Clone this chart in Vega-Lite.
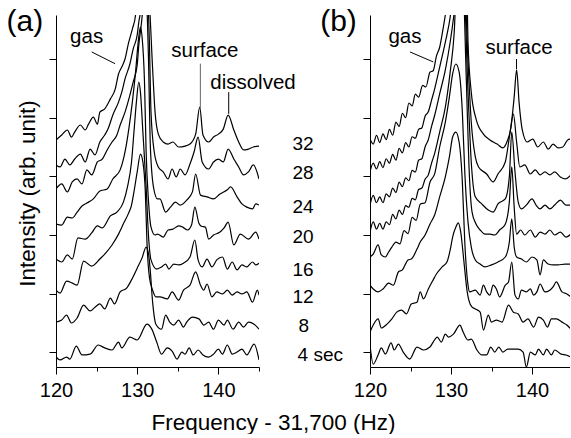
{
"$schema": "https://vega.github.io/schema/vega-lite/v6.json",
"padding": {"left": 6, "top": 7, "right": 0, "bottom": 0},
"spacing": 111,
"bounds": "flush",
"config": {
  "view": {"stroke": null},
  "font": "Liberation Sans",
  "axis": {"domainColor": "black", "tickColor": "black", "labelColor": "black", "titleColor": "black", "domainWidth": 1, "tickWidth": 1, "labelFont": "Liberation Sans", "titleFont": "Liberation Sans", "titleFontWeight": "normal", "grid": false, "labelFlush": false, "labelOverlap": false},
  "text": {"font": "Liberation Sans", "color": "black"}
},
"datasets": {
"specA": [
{"t":4,"f":120.0,"v":-0.16},{"t":4,"f":120.5,"v":-0.26},{"t":4,"f":121.3,"v":-0.16},{"t":4,"f":121.7,"v":-0.23},{"t":4,"f":122.5,"v":0.21},{"t":4,"f":123.2,"v":-0.09},{"t":4,"f":124.2,"v":-0.06},{"t":4,"f":125.2,"v":0.25},{"t":4,"f":126.0,"v":0.15},{"t":4,"f":126.9,"v":0.08},{"t":4,"f":127.7,"v":0.35},{"t":4,"f":128.1,"v":0.15},{"t":4,"f":129.1,"v":0.52},{"t":4,"f":130.0,"v":0.42},{"t":4,"f":131.2,"v":0.96},{"t":4,"f":131.8,"v":0.79},{"t":4,"f":132.4,"v":0.35},{"t":4,"f":133.0,"v":-0.06},{"t":4,"f":133.7,"v":0.15},{"t":4,"f":134.3,"v":0.04},{"t":4,"f":134.9,"v":-0.23},{"t":4,"f":135.5,"v":0.01},{"t":4,"f":135.9,"v":-0.06},{"t":4,"f":136.4,"v":0.15},{"t":4,"f":136.9,"v":-0.09},{"t":4,"f":137.5,"v":0.08},{"t":4,"f":138.1,"v":-0.09},{"t":4,"f":138.8,"v":-0.16},{"t":4,"f":139.4,"v":-0.06},{"t":4,"f":140.0,"v":0.11},{"t":4,"f":140.5,"v":-0.06},{"t":4,"f":141.1,"v":0.25},{"t":4,"f":141.7,"v":-0.06},{"t":4,"f":142.3,"v":0.01},{"t":4,"f":142.9,"v":0.11},{"t":4,"f":143.5,"v":-0.09},{"t":4,"f":144.4,"v":0.28},{"t":4,"f":145.0,"v":-0.26},
{"t":8,"f":120.0,"v":1.03},{"t":8,"f":120.7,"v":1.10},{"t":8,"f":121.3,"v":1.27},{"t":8,"f":121.9,"v":1.00},{"t":8,"f":122.6,"v":1.17},{"t":8,"f":123.4,"v":1.61},{"t":8,"f":124.2,"v":1.41},{"t":8,"f":124.8,"v":1.54},{"t":8,"f":125.4,"v":1.65},{"t":8,"f":126.0,"v":1.48},{"t":8,"f":126.7,"v":1.85},{"t":8,"f":127.2,"v":1.65},{"t":8,"f":127.9,"v":2.06},{"t":8,"f":128.7,"v":2.19},{"t":8,"f":129.3,"v":2.47},{"t":8,"f":130.0,"v":2.87},{"t":8,"f":130.6,"v":3.22},{"t":8,"f":131.1,"v":3.59},{"t":8,"f":131.4,"v":3.35},{"t":8,"f":131.6,"v":2.81},{"t":8,"f":131.9,"v":1.71},{"t":8,"f":132.3,"v":0.96},{"t":8,"f":133.0,"v":0.79},{"t":8,"f":133.5,"v":1.27},{"t":8,"f":134.0,"v":1.03},{"t":8,"f":134.5,"v":0.93},{"t":8,"f":135.1,"v":1.10},{"t":8,"f":135.7,"v":0.86},{"t":8,"f":136.1,"v":1.03},{"t":8,"f":136.8,"v":1.20},{"t":8,"f":137.6,"v":1.14},{"t":8,"f":138.2,"v":0.93},{"t":8,"f":138.8,"v":1.03},{"t":8,"f":139.4,"v":0.79},{"t":8,"f":140.0,"v":1.10},{"t":8,"f":140.7,"v":0.93},{"t":8,"f":141.1,"v":1.10},{"t":8,"f":141.8,"v":0.79},{"t":8,"f":142.5,"v":1.03},{"t":8,"f":143.1,"v":0.86},{"t":8,"f":143.7,"v":1.03},{"t":8,"f":144.4,"v":0.96},{"t":8,"f":145.0,"v":0.79},
{"t":12,"f":120.0,"v":2.12},{"t":12,"f":120.5,"v":2.02},{"t":12,"f":121.3,"v":2.43},{"t":12,"f":122.0,"v":2.36},{"t":12,"f":122.6,"v":2.29},{"t":12,"f":123.4,"v":3.11},{"t":12,"f":124.4,"v":2.94},{"t":12,"f":125.4,"v":3.18},{"t":12,"f":126.0,"v":3.35},{"t":12,"f":126.9,"v":3.66},{"t":12,"f":127.7,"v":4.03},{"t":12,"f":128.4,"v":4.44},{"t":12,"f":128.9,"v":4.72},{"t":12,"f":129.3,"v":5.02},{"t":12,"f":129.6,"v":5.47},{"t":12,"f":130.0,"v":6.15},{"t":12,"f":130.4,"v":6.76},{"t":12,"f":130.7,"v":6.49},{"t":12,"f":131.0,"v":5.47},{"t":12,"f":131.2,"v":3.76},{"t":12,"f":131.5,"v":2.57},{"t":12,"f":131.9,"v":2.12},{"t":12,"f":132.3,"v":1.89},{"t":12,"f":132.8,"v":1.89},{"t":12,"f":133.7,"v":1.82},{"t":12,"f":134.3,"v":2.06},{"t":12,"f":135.1,"v":1.78},{"t":12,"f":135.7,"v":2.12},{"t":12,"f":136.5,"v":2.29},{"t":12,"f":137.2,"v":2.74},{"t":12,"f":137.8,"v":2.29},{"t":12,"f":138.2,"v":2.12},{"t":12,"f":138.6,"v":2.33},{"t":12,"f":139.2,"v":1.89},{"t":12,"f":139.8,"v":2.06},{"t":12,"f":140.5,"v":1.99},{"t":12,"f":141.1,"v":2.12},{"t":12,"f":141.7,"v":1.95},{"t":12,"f":142.3,"v":2.06},{"t":12,"f":142.9,"v":1.99},{"t":12,"f":143.5,"v":2.06},{"t":12,"f":144.2,"v":1.71},{"t":12,"f":144.8,"v":2.12},{"t":12,"f":145.0,"v":1.95},
{"t":16,"f":120.0,"v":3.18},{"t":16,"f":120.7,"v":3.08},{"t":16,"f":121.4,"v":3.32},{"t":16,"f":122.0,"v":3.18},{"t":16,"f":122.7,"v":3.90},{"t":16,"f":123.6,"v":3.86},{"t":16,"f":124.4,"v":4.07},{"t":16,"f":125.1,"v":4.31},{"t":16,"f":125.7,"v":4.24},{"t":16,"f":126.7,"v":4.65},{"t":16,"f":127.5,"v":4.78},{"t":16,"f":128.3,"v":5.12},{"t":16,"f":128.8,"v":5.64},{"t":16,"f":129.3,"v":6.49},{"t":16,"f":129.6,"v":7.51},{"t":16,"f":129.9,"v":8.53},{"t":16,"f":130.2,"v":9.21},{"t":16,"f":130.4,"v":8.87},{"t":16,"f":130.7,"v":7.51},{"t":16,"f":131.1,"v":5.64},{"t":16,"f":131.4,"v":3.93},{"t":16,"f":131.7,"v":3.15},{"t":16,"f":132.4,"v":2.84},{"t":16,"f":133.0,"v":2.91},{"t":16,"f":133.5,"v":3.01},{"t":16,"f":133.9,"v":2.84},{"t":16,"f":134.5,"v":3.01},{"t":16,"f":135.1,"v":2.98},{"t":16,"f":135.7,"v":3.04},{"t":16,"f":136.5,"v":3.25},{"t":16,"f":137.1,"v":3.83},{"t":16,"f":137.5,"v":3.15},{"t":16,"f":138.0,"v":2.91},{"t":16,"f":138.6,"v":3.18},{"t":16,"f":139.2,"v":2.91},{"t":16,"f":139.8,"v":3.15},{"t":16,"f":140.5,"v":3.25},{"t":16,"f":141.1,"v":2.84},{"t":16,"f":141.7,"v":3.08},{"t":16,"f":142.3,"v":2.81},{"t":16,"f":142.9,"v":2.98},{"t":16,"f":143.5,"v":2.91},{"t":16,"f":144.2,"v":3.08},{"t":16,"f":144.6,"v":2.98},{"t":16,"f":145.0,"v":3.04},
{"t":20,"f":120.0,"v":4.37},{"t":20,"f":120.7,"v":4.34},{"t":20,"f":121.4,"v":4.61},{"t":20,"f":122.0,"v":4.58},{"t":20,"f":122.6,"v":4.78},{"t":20,"f":123.2,"v":4.99},{"t":20,"f":123.8,"v":5.09},{"t":20,"f":124.6,"v":5.23},{"t":20,"f":125.4,"v":5.50},{"t":20,"f":126.3,"v":5.57},{"t":20,"f":127.0,"v":5.91},{"t":20,"f":127.9,"v":6.22},{"t":20,"f":128.5,"v":6.83},{"t":20,"f":129.0,"v":7.68},{"t":20,"f":129.4,"v":8.53},{"t":20,"f":129.8,"v":9.56},{"t":20,"f":130.1,"v":10.51},{"t":20,"f":130.4,"v":11.09},{"t":20,"f":130.6,"v":10.75},{"t":20,"f":130.9,"v":9.21},{"t":20,"f":131.1,"v":6.83},{"t":20,"f":131.4,"v":5.12},{"t":20,"f":131.7,"v":4.27},{"t":20,"f":132.2,"v":4.00},{"t":20,"f":132.5,"v":4.03},{"t":20,"f":133.2,"v":3.93},{"t":20,"f":133.8,"v":4.17},{"t":20,"f":134.4,"v":4.20},{"t":20,"f":135.1,"v":4.31},{"t":20,"f":135.6,"v":4.27},{"t":20,"f":136.2,"v":4.17},{"t":20,"f":136.7,"v":4.35},{"t":20,"f":137.1,"v":4.95},{"t":20,"f":137.6,"v":4.40},{"t":20,"f":137.9,"v":4.30},{"t":20,"f":138.4,"v":4.27},{"t":20,"f":138.8,"v":3.86},{"t":20,"f":139.4,"v":4.00},{"t":20,"f":140.2,"v":4.10},{"t":20,"f":140.7,"v":4.24},{"t":20,"f":141.2,"v":4.44},{"t":20,"f":141.9,"v":3.66},{"t":20,"f":142.7,"v":4.03},{"t":20,"f":143.7,"v":3.86},{"t":20,"f":144.6,"v":4.10},{"t":20,"f":145.0,"v":3.86},
{"t":24,"f":120.0,"v":5.57},{"t":24,"f":120.7,"v":5.74},{"t":24,"f":121.4,"v":5.47},{"t":24,"f":122.0,"v":5.81},{"t":24,"f":122.6,"v":5.91},{"t":24,"f":123.2,"v":5.74},{"t":24,"f":123.8,"v":6.22},{"t":24,"f":124.4,"v":6.05},{"t":24,"f":125.1,"v":6.49},{"t":24,"f":125.7,"v":6.59},{"t":24,"f":126.3,"v":6.90},{"t":24,"f":126.9,"v":7.17},{"t":24,"f":127.5,"v":7.41},{"t":24,"f":127.9,"v":7.75},{"t":24,"f":128.5,"v":8.19},{"t":24,"f":129.1,"v":8.77},{"t":24,"f":129.5,"v":9.21},{"t":24,"f":130.0,"v":9.80},{"t":24,"f":130.2,"v":10.48},{"t":24,"f":130.6,"v":11.43},{"t":24,"f":130.9,"v":12.63},{"t":24,"f":131.1,"v":12.28},{"t":24,"f":131.4,"v":9.90},{"t":24,"f":131.6,"v":7.17},{"t":24,"f":132.0,"v":5.64},{"t":24,"f":132.5,"v":5.23},{"t":24,"f":132.8,"v":5.23},{"t":24,"f":133.5,"v":4.78},{"t":24,"f":134.1,"v":4.95},{"t":24,"f":134.7,"v":5.12},{"t":24,"f":135.3,"v":5.02},{"t":24,"f":136.1,"v":5.19},{"t":24,"f":136.8,"v":5.47},{"t":24,"f":137.2,"v":6.08},{"t":24,"f":137.8,"v":5.36},{"t":24,"f":138.6,"v":5.30},{"t":24,"f":139.4,"v":5.23},{"t":24,"f":140.2,"v":5.40},{"t":24,"f":141.1,"v":5.54},{"t":24,"f":141.5,"v":5.64},{"t":24,"f":142.3,"v":5.30},{"t":24,"f":142.9,"v":5.06},{"t":24,"f":143.5,"v":4.95},{"t":24,"f":144.2,"v":4.89},{"t":24,"f":144.6,"v":5.06},{"t":24,"f":145.0,"v":5.02},
{"t":28,"f":120.0,"v":6.39},{"t":28,"f":120.5,"v":6.32},{"t":28,"f":121.1,"v":6.59},{"t":28,"f":121.7,"v":6.39},{"t":28,"f":122.3,"v":6.59},{"t":28,"f":123.0,"v":6.76},{"t":28,"f":123.6,"v":6.49},{"t":28,"f":124.2,"v":6.93},{"t":28,"f":124.8,"v":6.73},{"t":28,"f":125.4,"v":7.17},{"t":28,"f":126.0,"v":7.41},{"t":28,"f":126.4,"v":7.61},{"t":28,"f":127.0,"v":8.09},{"t":28,"f":127.7,"v":8.53},{"t":28,"f":128.1,"v":8.87},{"t":28,"f":128.5,"v":9.32},{"t":28,"f":129.1,"v":9.83},{"t":28,"f":129.5,"v":10.34},{"t":28,"f":130.0,"v":10.82},{"t":28,"f":130.2,"v":11.26},{"t":28,"f":130.6,"v":11.94},{"t":28,"f":130.9,"v":12.96},{"t":28,"f":131.2,"v":12.63},{"t":28,"f":131.5,"v":10.58},{"t":28,"f":131.7,"v":8.19},{"t":28,"f":132.1,"v":6.83},{"t":28,"f":132.6,"v":6.32},{"t":28,"f":133.2,"v":6.15},{"t":28,"f":133.8,"v":5.91},{"t":28,"f":134.3,"v":6.25},{"t":28,"f":134.8,"v":5.98},{"t":28,"f":135.3,"v":6.25},{"t":28,"f":135.9,"v":6.05},{"t":28,"f":136.5,"v":6.42},{"t":28,"f":137.0,"v":6.83},{"t":28,"f":137.5,"v":7.34},{"t":28,"f":138.0,"v":6.49},{"t":28,"f":138.8,"v":6.25},{"t":28,"f":139.4,"v":6.49},{"t":28,"f":140.0,"v":6.59},{"t":28,"f":140.6,"v":6.49},{"t":28,"f":141.2,"v":6.93},{"t":28,"f":141.9,"v":6.59},{"t":28,"f":142.5,"v":6.32},{"t":28,"f":143.1,"v":6.05},{"t":28,"f":143.7,"v":6.15},{"t":28,"f":144.3,"v":6.39},{"t":28,"f":145.0,"v":5.91},
{"t":32,"f":120.0,"v":7.24},{"t":32,"f":120.7,"v":7.41},{"t":32,"f":121.4,"v":7.58},{"t":32,"f":121.9,"v":7.34},{"t":32,"f":122.3,"v":7.51},{"t":32,"f":123.0,"v":7.75},{"t":32,"f":123.6,"v":7.58},{"t":32,"f":124.0,"v":7.78},{"t":32,"f":124.6,"v":8.02},{"t":32,"f":125.1,"v":7.78},{"t":32,"f":125.4,"v":8.19},{"t":32,"f":126.0,"v":8.30},{"t":32,"f":126.7,"v":8.64},{"t":32,"f":127.3,"v":8.98},{"t":32,"f":127.7,"v":9.49},{"t":32,"f":128.1,"v":9.73},{"t":32,"f":128.5,"v":10.00},{"t":32,"f":128.9,"v":10.51},{"t":32,"f":129.4,"v":11.02},{"t":32,"f":129.8,"v":11.50},{"t":32,"f":130.1,"v":12.63},{"t":32,"f":130.6,"v":13.65},{"t":32,"f":131.1,"v":13.31},{"t":32,"f":131.5,"v":11.94},{"t":32,"f":131.9,"v":9.66},{"t":32,"f":132.2,"v":8.19},{"t":32,"f":132.6,"v":7.44},{"t":32,"f":133.2,"v":7.17},{"t":32,"f":133.8,"v":7.10},{"t":32,"f":134.4,"v":7.17},{"t":32,"f":135.1,"v":7.00},{"t":32,"f":135.9,"v":7.03},{"t":32,"f":136.5,"v":7.10},{"t":32,"f":137.2,"v":7.44},{"t":32,"f":137.7,"v":8.36},{"t":32,"f":138.1,"v":7.41},{"t":32,"f":138.8,"v":7.17},{"t":32,"f":139.4,"v":7.34},{"t":32,"f":140.0,"v":7.44},{"t":32,"f":140.6,"v":7.61},{"t":32,"f":141.2,"v":8.09},{"t":32,"f":141.9,"v":7.58},{"t":32,"f":142.5,"v":7.17},{"t":32,"f":143.1,"v":6.90},{"t":32,"f":143.7,"v":6.93},{"t":32,"f":144.3,"v":7.00},{"t":32,"f":145.0,"v":7.03}
],
"specB": [
{"t":4,"f":120.0,"v":0.25},{"t":4,"f":120.4,"v":-0.40},{"t":4,"f":121.0,"v":-0.09},{"t":4,"f":121.4,"v":0.15},{"t":4,"f":121.9,"v":-0.06},{"t":4,"f":122.6,"v":0.32},{"t":4,"f":123.0,"v":0.08},{"t":4,"f":123.5,"v":0.28},{"t":4,"f":124.1,"v":0.01},{"t":4,"f":124.9,"v":-0.23},{"t":4,"f":125.8,"v":0.18},{"t":4,"f":126.6,"v":0.08},{"t":4,"f":127.4,"v":0.18},{"t":4,"f":127.8,"v":0.35},{"t":4,"f":128.3,"v":0.52},{"t":4,"f":128.8,"v":0.35},{"t":4,"f":129.3,"v":0.62},{"t":4,"f":129.7,"v":0.52},{"t":4,"f":130.3,"v":0.62},{"t":4,"f":131.1,"v":0.93},{"t":4,"f":131.5,"v":0.69},{"t":4,"f":132.1,"v":0.42},{"t":4,"f":132.5,"v":0.45},{"t":4,"f":133.2,"v":0.08},{"t":4,"f":133.8,"v":-0.09},{"t":4,"f":134.4,"v":-0.09},{"t":4,"f":134.9,"v":0.18},{"t":4,"f":135.4,"v":0.01},{"t":4,"f":135.9,"v":0.18},{"t":4,"f":136.4,"v":0.01},{"t":4,"f":137.0,"v":0.11},{"t":4,"f":137.7,"v":0.11},{"t":4,"f":138.3,"v":0.11},{"t":4,"f":138.9,"v":0.01},{"t":4,"f":139.3,"v":-0.50},{"t":4,"f":139.8,"v":0.01},{"t":4,"f":140.4,"v":-0.09},{"t":4,"f":140.8,"v":0.11},{"t":4,"f":141.4,"v":-0.09},{"t":4,"f":141.8,"v":0.11},{"t":4,"f":142.4,"v":-0.09},{"t":4,"f":142.8,"v":0.08},{"t":4,"f":143.6,"v":-0.06},{"t":4,"f":144.2,"v":-0.09},{"t":4,"f":144.8,"v":-0.16},
{"t":8,"f":120.0,"v":0.69},{"t":8,"f":120.4,"v":0.93},{"t":8,"f":121.0,"v":1.14},{"t":8,"f":121.4,"v":0.83},{"t":8,"f":122.1,"v":0.96},{"t":8,"f":122.7,"v":1.14},{"t":8,"f":123.3,"v":1.37},{"t":8,"f":123.9,"v":1.44},{"t":8,"f":124.5,"v":1.31},{"t":8,"f":125.1,"v":1.65},{"t":8,"f":125.8,"v":1.71},{"t":8,"f":126.2,"v":2.06},{"t":8,"f":126.6,"v":1.82},{"t":8,"f":127.2,"v":2.16},{"t":8,"f":127.8,"v":2.47},{"t":8,"f":128.2,"v":2.67},{"t":8,"f":128.9,"v":2.91},{"t":8,"f":129.5,"v":3.08},{"t":8,"f":129.9,"v":3.49},{"t":8,"f":130.2,"v":3.93},{"t":8,"f":130.6,"v":4.27},{"t":8,"f":130.9,"v":4.41},{"t":8,"f":131.2,"v":4.10},{"t":8,"f":131.6,"v":3.08},{"t":8,"f":132.0,"v":2.06},{"t":8,"f":132.2,"v":1.78},{"t":8,"f":132.6,"v":1.54},{"t":8,"f":133.0,"v":1.48},{"t":8,"f":133.6,"v":1.37},{"t":8,"f":134.0,"v":0.76},{"t":8,"f":134.6,"v":1.27},{"t":8,"f":135.0,"v":1.03},{"t":8,"f":135.6,"v":1.10},{"t":8,"f":136.3,"v":1.03},{"t":8,"f":137.1,"v":1.61},{"t":8,"f":137.7,"v":1.37},{"t":8,"f":138.3,"v":1.31},{"t":8,"f":138.9,"v":1.03},{"t":8,"f":139.5,"v":1.14},{"t":8,"f":140.2,"v":0.86},{"t":8,"f":140.8,"v":1.20},{"t":8,"f":141.4,"v":1.10},{"t":8,"f":141.9,"v":0.86},{"t":8,"f":142.4,"v":1.14},{"t":8,"f":143.0,"v":1.14},{"t":8,"f":143.7,"v":1.03},{"t":8,"f":144.3,"v":0.93},{"t":8,"f":144.8,"v":0.79},
{"t":12,"f":120.0,"v":2.29},{"t":12,"f":120.4,"v":2.16},{"t":12,"f":121.0,"v":2.06},{"t":12,"f":121.6,"v":2.16},{"t":12,"f":122.3,"v":2.36},{"t":12,"f":122.9,"v":2.29},{"t":12,"f":123.5,"v":2.74},{"t":12,"f":124.0,"v":2.81},{"t":12,"f":124.7,"v":3.15},{"t":12,"f":125.1,"v":3.18},{"t":12,"f":125.8,"v":3.52},{"t":12,"f":126.2,"v":3.76},{"t":12,"f":126.8,"v":4.00},{"t":12,"f":127.4,"v":4.37},{"t":12,"f":128.0,"v":4.70},{"t":12,"f":128.6,"v":5.30},{"t":12,"f":129.3,"v":5.98},{"t":12,"f":129.8,"v":6.66},{"t":12,"f":130.2,"v":7.34},{"t":12,"f":130.6,"v":7.51},{"t":12,"f":131.0,"v":7.17},{"t":12,"f":131.4,"v":5.81},{"t":12,"f":131.7,"v":3.76},{"t":12,"f":132.1,"v":2.29},{"t":12,"f":132.3,"v":2.06},{"t":12,"f":133.0,"v":2.12},{"t":12,"f":133.6,"v":1.95},{"t":12,"f":134.0,"v":2.29},{"t":12,"f":134.4,"v":2.06},{"t":12,"f":134.8,"v":1.95},{"t":12,"f":135.2,"v":2.29},{"t":12,"f":135.6,"v":2.16},{"t":12,"f":136.0,"v":1.89},{"t":12,"f":136.7,"v":2.29},{"t":12,"f":137.1,"v":2.40},{"t":12,"f":137.5,"v":3.08},{"t":12,"f":137.9,"v":1.95},{"t":12,"f":138.3,"v":1.82},{"t":12,"f":138.7,"v":2.12},{"t":12,"f":139.3,"v":2.06},{"t":12,"f":139.8,"v":2.16},{"t":12,"f":140.2,"v":1.95},{"t":12,"f":140.6,"v":2.06},{"t":12,"f":141.0,"v":2.33},{"t":12,"f":141.6,"v":2.06},{"t":12,"f":142.2,"v":2.12},{"t":12,"f":142.6,"v":2.23},{"t":12,"f":143.0,"v":2.40},{"t":12,"f":143.7,"v":2.06},{"t":12,"f":144.3,"v":1.99},{"t":12,"f":144.8,"v":1.89},
{"t":16,"f":120.0,"v":3.25},{"t":16,"f":120.4,"v":3.35},{"t":16,"f":121.0,"v":3.66},{"t":16,"f":121.4,"v":3.32},{"t":16,"f":121.9,"v":3.25},{"t":16,"f":122.3,"v":3.42},{"t":16,"f":122.7,"v":3.59},{"t":16,"f":123.2,"v":3.76},{"t":16,"f":123.7,"v":3.70},{"t":16,"f":124.2,"v":4.15},{"t":16,"f":124.7,"v":4.05},{"t":16,"f":125.2,"v":4.60},{"t":16,"f":125.7,"v":4.50},{"t":16,"f":126.2,"v":5.05},{"t":16,"f":126.8,"v":5.10},{"t":16,"f":127.4,"v":5.80},{"t":16,"f":128.0,"v":6.10},{"t":16,"f":128.6,"v":7.00},{"t":16,"f":129.3,"v":7.85},{"t":16,"f":129.8,"v":8.71},{"t":16,"f":130.2,"v":9.49},{"t":16,"f":130.6,"v":9.83},{"t":16,"f":131.0,"v":9.56},{"t":16,"f":131.4,"v":8.19},{"t":16,"f":131.7,"v":6.15},{"t":16,"f":132.1,"v":4.44},{"t":16,"f":132.5,"v":3.59},{"t":16,"f":133.0,"v":3.15},{"t":16,"f":133.6,"v":3.01},{"t":16,"f":134.2,"v":2.91},{"t":16,"f":135.0,"v":2.98},{"t":16,"f":135.8,"v":3.08},{"t":16,"f":136.7,"v":3.25},{"t":16,"f":137.2,"v":3.76},{"t":16,"f":137.5,"v":4.55},{"t":16,"f":137.8,"v":3.59},{"t":16,"f":138.1,"v":3.25},{"t":16,"f":138.7,"v":3.18},{"t":16,"f":139.3,"v":3.08},{"t":16,"f":140.0,"v":3.25},{"t":16,"f":140.6,"v":3.15},{"t":16,"f":141.0,"v":2.64},{"t":16,"f":141.4,"v":3.15},{"t":16,"f":142.0,"v":3.01},{"t":16,"f":142.6,"v":2.98},{"t":16,"f":143.2,"v":2.98},{"t":16,"f":144.1,"v":3.01},{"t":16,"f":144.8,"v":3.01},
{"t":20,"f":120.0,"v":4.10},{"t":20,"f":120.4,"v":4.45},{"t":20,"f":120.8,"v":4.20},{"t":20,"f":121.2,"v":4.40},{"t":20,"f":121.6,"v":4.20},{"t":20,"f":122.0,"v":4.45},{"t":20,"f":122.4,"v":4.35},{"t":20,"f":122.8,"v":4.70},{"t":20,"f":123.2,"v":4.55},{"t":20,"f":123.6,"v":4.85},{"t":20,"f":124.0,"v":4.70},{"t":20,"f":124.4,"v":5.00},{"t":20,"f":124.8,"v":4.95},{"t":20,"f":125.2,"v":5.25},{"t":20,"f":125.6,"v":5.20},{"t":20,"f":126.0,"v":5.55},{"t":20,"f":126.4,"v":5.60},{"t":20,"f":126.8,"v":5.90},{"t":20,"f":127.2,"v":6.05},{"t":20,"f":127.6,"v":6.45},{"t":20,"f":128.0,"v":6.80},{"t":20,"f":128.6,"v":7.51},{"t":20,"f":129.3,"v":8.36},{"t":20,"f":129.9,"v":9.56},{"t":20,"f":130.4,"v":10.92},{"t":20,"f":130.7,"v":12.60},{"t":20,"f":131.4,"v":12.96},{"t":20,"f":131.9,"v":9.21},{"t":20,"f":132.2,"v":6.49},{"t":20,"f":132.6,"v":4.78},{"t":20,"f":133.1,"v":4.37},{"t":20,"f":133.6,"v":4.17},{"t":20,"f":134.2,"v":4.03},{"t":20,"f":134.8,"v":4.03},{"t":20,"f":135.4,"v":4.00},{"t":20,"f":136.0,"v":4.17},{"t":20,"f":136.7,"v":4.37},{"t":20,"f":137.2,"v":5.12},{"t":20,"f":137.5,"v":6.32},{"t":20,"f":137.8,"v":4.95},{"t":20,"f":138.1,"v":4.03},{"t":20,"f":138.6,"v":4.17},{"t":20,"f":139.1,"v":4.00},{"t":20,"f":139.8,"v":4.17},{"t":20,"f":140.4,"v":3.93},{"t":20,"f":141.0,"v":4.10},{"t":20,"f":141.6,"v":4.03},{"t":20,"f":142.2,"v":4.17},{"t":20,"f":142.8,"v":4.00},{"t":20,"f":143.5,"v":4.10},{"t":20,"f":144.2,"v":3.93},{"t":20,"f":144.8,"v":4.03},
{"t":24,"f":120.0,"v":5.02},{"t":24,"f":120.4,"v":5.35},{"t":24,"f":120.8,"v":5.10},{"t":24,"f":121.2,"v":5.30},{"t":24,"f":121.6,"v":5.10},{"t":24,"f":122.0,"v":5.40},{"t":24,"f":122.4,"v":5.30},{"t":24,"f":122.8,"v":5.60},{"t":24,"f":123.2,"v":5.45},{"t":24,"f":123.6,"v":5.80},{"t":24,"f":124.0,"v":5.65},{"t":24,"f":124.4,"v":5.95},{"t":24,"f":124.8,"v":5.85},{"t":24,"f":125.2,"v":6.20},{"t":24,"f":125.6,"v":6.15},{"t":24,"f":126.0,"v":6.55},{"t":24,"f":126.4,"v":6.60},{"t":24,"f":126.8,"v":7.00},{"t":24,"f":127.2,"v":7.25},{"t":24,"f":127.6,"v":7.70},{"t":24,"f":128.0,"v":8.10},{"t":24,"f":128.6,"v":8.81},{"t":24,"f":129.3,"v":9.63},{"t":24,"f":129.9,"v":10.58},{"t":24,"f":130.4,"v":11.60},{"t":24,"f":130.9,"v":12.96},{"t":24,"f":131.5,"v":12.96},{"t":24,"f":132.1,"v":8.87},{"t":24,"f":132.5,"v":6.49},{"t":24,"f":133.0,"v":5.30},{"t":24,"f":133.8,"v":5.06},{"t":24,"f":134.6,"v":4.85},{"t":24,"f":135.2,"v":4.78},{"t":24,"f":135.8,"v":5.06},{"t":24,"f":136.7,"v":5.23},{"t":24,"f":137.2,"v":5.98},{"t":24,"f":137.5,"v":7.51},{"t":24,"f":137.9,"v":6.15},{"t":24,"f":138.3,"v":5.12},{"t":24,"f":138.7,"v":4.89},{"t":24,"f":139.3,"v":5.02},{"t":24,"f":140.0,"v":5.23},{"t":24,"f":140.5,"v":5.02},{"t":24,"f":141.0,"v":4.89},{"t":24,"f":141.6,"v":5.02},{"t":24,"f":142.2,"v":4.89},{"t":24,"f":142.8,"v":5.02},{"t":24,"f":143.5,"v":5.19},{"t":24,"f":144.2,"v":5.02},{"t":24,"f":144.8,"v":5.02},
{"t":28,"f":120.0,"v":6.15},{"t":28,"f":120.4,"v":6.45},{"t":28,"f":120.8,"v":6.25},{"t":28,"f":121.2,"v":6.50},{"t":28,"f":121.6,"v":6.30},{"t":28,"f":122.0,"v":6.60},{"t":28,"f":122.4,"v":6.45},{"t":28,"f":122.8,"v":6.75},{"t":28,"f":123.2,"v":6.55},{"t":28,"f":123.6,"v":6.95},{"t":28,"f":124.0,"v":6.80},{"t":28,"f":124.4,"v":7.15},{"t":28,"f":124.8,"v":7.00},{"t":28,"f":125.2,"v":7.35},{"t":28,"f":125.6,"v":7.30},{"t":28,"f":126.0,"v":7.60},{"t":28,"f":126.4,"v":7.65},{"t":28,"f":126.8,"v":8.05},{"t":28,"f":127.2,"v":8.20},{"t":28,"f":127.6,"v":8.60},{"t":28,"f":128.0,"v":9.00},{"t":28,"f":128.5,"v":9.60},{"t":28,"f":129.0,"v":10.20},{"t":28,"f":129.4,"v":10.70},{"t":28,"f":129.9,"v":11.43},{"t":28,"f":130.5,"v":12.96},{"t":28,"f":131.6,"v":12.96},{"t":28,"f":132.1,"v":9.90},{"t":28,"f":132.5,"v":7.85},{"t":28,"f":133.0,"v":6.66},{"t":28,"f":133.4,"v":6.32},{"t":28,"f":134.4,"v":6.08},{"t":28,"f":135.2,"v":5.81},{"t":28,"f":135.8,"v":6.08},{"t":28,"f":136.7,"v":6.49},{"t":28,"f":137.3,"v":7.51},{"t":28,"f":137.7,"v":8.12},{"t":28,"f":138.1,"v":7.17},{"t":28,"f":138.5,"v":6.32},{"t":28,"f":139.1,"v":6.39},{"t":28,"f":139.8,"v":6.08},{"t":28,"f":140.4,"v":6.22},{"t":28,"f":141.0,"v":6.05},{"t":28,"f":141.6,"v":6.15},{"t":28,"f":142.2,"v":6.05},{"t":28,"f":142.8,"v":6.15},{"t":28,"f":143.5,"v":5.98},{"t":28,"f":144.1,"v":5.91},{"t":28,"f":144.8,"v":6.05},
{"t":32,"f":120.0,"v":7.27},{"t":32,"f":120.4,"v":7.10},{"t":32,"f":120.8,"v":7.40},{"t":32,"f":121.2,"v":7.15},{"t":32,"f":121.6,"v":7.45},{"t":32,"f":122.0,"v":7.25},{"t":32,"f":122.4,"v":7.60},{"t":32,"f":122.8,"v":7.40},{"t":32,"f":123.2,"v":7.85},{"t":32,"f":123.6,"v":7.70},{"t":32,"f":124.0,"v":8.15},{"t":32,"f":124.4,"v":8.00},{"t":32,"f":124.8,"v":8.50},{"t":32,"f":125.2,"v":8.40},{"t":32,"f":125.6,"v":8.80},{"t":32,"f":126.0,"v":8.70},{"t":32,"f":126.5,"v":9.10},{"t":32,"f":126.9,"v":9.05},{"t":32,"f":127.4,"v":9.55},{"t":32,"f":127.8,"v":9.60},{"t":32,"f":128.2,"v":10.10},{"t":32,"f":128.6,"v":10.40},{"t":32,"f":129.0,"v":11.00},{"t":32,"f":129.3,"v":11.50},{"t":32,"f":129.9,"v":12.96},{"t":32,"f":131.9,"v":12.96},{"t":32,"f":132.1,"v":10.58},{"t":32,"f":132.5,"v":8.87},{"t":32,"f":133.1,"v":7.95},{"t":32,"f":134.0,"v":7.44},{"t":32,"f":134.8,"v":7.24},{"t":32,"f":135.7,"v":7.10},{"t":32,"f":136.4,"v":6.97},{"t":32,"f":136.9,"v":7.17},{"t":32,"f":137.4,"v":7.68},{"t":32,"f":137.8,"v":8.71},{"t":32,"f":138.1,"v":9.63},{"t":32,"f":138.4,"v":8.53},{"t":32,"f":138.8,"v":7.58},{"t":32,"f":139.4,"v":7.17},{"t":32,"f":140.1,"v":7.27},{"t":32,"f":140.7,"v":7.00},{"t":32,"f":141.4,"v":7.17},{"t":32,"f":142.0,"v":6.93},{"t":32,"f":142.6,"v":7.10},{"t":32,"f":143.2,"v":6.97},{"t":32,"f":143.8,"v":7.00},{"t":32,"f":144.4,"v":7.24},{"t":32,"f":144.8,"v":7.27}
]
},
"hconcat": [
{
  "width": 203, "height": 352,
  "layer": [
    {
      "data": {"name": "specA"},
      "mark": {"type": "line", "clip": true, "interpolate": "monotone", "color": "black", "strokeWidth": 1.2},
      "encoding": {
        "x": {"field": "f", "type": "quantitative", "scale": {"domain": [120, 145], "nice": false, "zero": false},
          "axis": {"values": [120, 125, 130, 135, 140, 145], "format": "d", "labelExpr": "datum.value % 10 === 0 ? datum.label : ''", "labelFontSize": 20, "labelPadding": 6, "tickSize": {"condition": {"test": "datum.value % 10 === 0", "value": 7}, "value": 4}, "title": "Frequency - 31,700 (Hz)", "titleFontSize": 22.5, "titleX": 217, "titleY": 62, "titleAlign": "center", "titleBaseline": "alphabetic"}},
        "y": {"field": "v", "type": "quantitative", "scale": {"domain": [-0.5, 11.5], "nice": false, "zero": false},
          "axis": {"values": [0, 0.5, 1, 1.5, 2, 2.5, 3, 3.5, 4, 4.5, 5, 5.5, 6, 6.5, 7, 7.5, 8, 8.5, 9, 9.5, 10, 10.5, 11, 11.5], "labels": false, "tickSize": {"condition": {"test": "datum.value % 1 === 0", "value": 7}, "value": 4}, "title": "Intensity (arb. unit)", "titleFontSize": 22.5, "titleX": -22, "titleY": 178, "titleAlign": "center", "titleBaseline": "alphabetic", "titleAngle": 270}},
        "detail": {"field": "t", "type": "nominal"}
      }
    },
    {
      "data": {"values": [{"f": 124.4, "v": 10.24, "f2": 127.28, "v2": 9.84}, {"f": 141.27, "v": 8.87, "f2": 141.27, "v2": 8.13}]},
      "mark": {"type": "rule", "color": "black", "strokeWidth": 1},
      "encoding": {"x": {"field": "f", "type": "quantitative"}, "y": {"field": "v", "type": "quantitative"}, "x2": {"field": "f2"}, "y2": {"field": "v2"}}
    },
    {
      "data": {"values": [{"f": 137.78, "v": 9.84, "f2": 137.78, "v2": 8.31}]},
      "mark": {"type": "rule", "color": "#666666", "strokeWidth": 1},
      "encoding": {"x": {"field": "f", "type": "quantitative"}, "y": {"field": "v", "type": "quantitative"}, "x2": {"field": "f2"}, "y2": {"field": "v2"}}
    },
    {
      "data": {"values": [{"label": "gas", "f": 123.77, "v": 10.55}, {"label": "surface", "f": 138.33, "v": 10.07}, {"label": "dissolved", "f": 144.26, "v": 8.99}]},
      "mark": {"type": "text", "fontSize": 20.5, "align": "center", "baseline": "alphabetic"},
      "encoding": {"x": {"field": "f", "type": "quantitative"}, "y": {"field": "v", "type": "quantitative"}, "text": {"field": "label"}}
    },
    {
      "data": {"values": [{"label": "32", "f": 150.43, "v": 7.11}, {"label": "28", "f": 150.43, "v": 6.10}, {"label": "24", "f": 150.43, "v": 4.95}, {"label": "20", "f": 150.43, "v": 3.93}, {"label": "16", "f": 150.43, "v": 2.79}, {"label": "12", "f": 150.43, "v": 1.89}, {"label": "8", "f": 150.5, "v": 0.90}]},
      "mark": {"type": "text", "fontSize": 19, "align": "center", "baseline": "middle"},
      "encoding": {"x": {"field": "f", "type": "quantitative"}, "y": {"field": "v", "type": "quantitative"}, "text": {"field": "label"}}
    },
    {
      "data": {"values": [{"label": "4 sec", "f": 149.75, "v": -0.09}]},
      "mark": {"type": "text", "fontSize": 19, "align": "left", "baseline": "middle"},
      "encoding": {"x": {"field": "f", "type": "quantitative"}, "y": {"field": "v", "type": "quantitative"}, "text": {"field": "label"}}
    },
    {
      "data": {"values": [{"label": "(a)", "f": 116.17, "v": 10.94}]},
      "mark": {"type": "text", "fontSize": 30, "align": "center", "baseline": "alphabetic"},
      "encoding": {"x": {"field": "f", "type": "quantitative"}, "y": {"field": "v", "type": "quantitative"}, "text": {"field": "label"}}
    }
  ]
},
{
  "width": 200, "height": 352,
  "layer": [
    {
      "data": {"name": "specB"},
      "mark": {"type": "line", "clip": true, "interpolate": "monotone", "color": "black", "strokeWidth": 1.2},
      "encoding": {
        "x": {"field": "f", "type": "quantitative", "scale": {"domain": [120, 144.69], "nice": false, "zero": false},
          "axis": {"values": [120, 125, 130, 135, 140], "format": "d", "labelExpr": "datum.value % 10 === 0 ? datum.label : ''", "labelFontSize": 20, "labelPadding": 6, "tickSize": {"condition": {"test": "datum.value % 10 === 0", "value": 7}, "value": 4}, "title": null}},
        "y": {"field": "v", "type": "quantitative", "scale": {"domain": [-0.5, 11.5], "nice": false, "zero": false},
          "axis": {"values": [0, 0.5, 1, 1.5, 2, 2.5, 3, 3.5, 4, 4.5, 5, 5.5, 6, 6.5, 7, 7.5, 8, 8.5, 9, 9.5, 10, 10.5, 11, 11.5], "labels": false, "tickSize": {"condition": {"test": "datum.value % 1 === 0", "value": 7}, "value": 4}, "title": null}},
        "detail": {"field": "t", "type": "nominal"}
      }
    },
    {
      "data": {"values": [{"f": 124.94, "v": 10.24, "f2": 127.81, "v2": 9.90}, {"f": 138.09, "v": 10.0, "f2": 138.09, "v2": 9.66}]},
      "mark": {"type": "rule", "color": "black", "strokeWidth": 1},
      "encoding": {"x": {"field": "f", "type": "quantitative"}, "y": {"field": "v", "type": "quantitative"}, "x2": {"field": "f2"}, "y2": {"field": "v2"}}
    },
    {
      "data": {"values": [{"label": "gas", "f": 124.32, "v": 10.55}, {"label": "surface", "f": 138.40, "v": 10.17}]},
      "mark": {"type": "text", "fontSize": 20.5, "align": "center", "baseline": "alphabetic"},
      "encoding": {"x": {"field": "f", "type": "quantitative"}, "y": {"field": "v", "type": "quantitative"}, "text": {"field": "label"}}
    },
    {
      "data": {"values": [{"label": "(b)", "f": 116.11, "v": 10.94}]},
      "mark": {"type": "text", "fontSize": 30, "align": "center", "baseline": "alphabetic"},
      "encoding": {"x": {"field": "f", "type": "quantitative"}, "y": {"field": "v", "type": "quantitative"}, "text": {"field": "label"}}
    }
  ]
}
]
}
